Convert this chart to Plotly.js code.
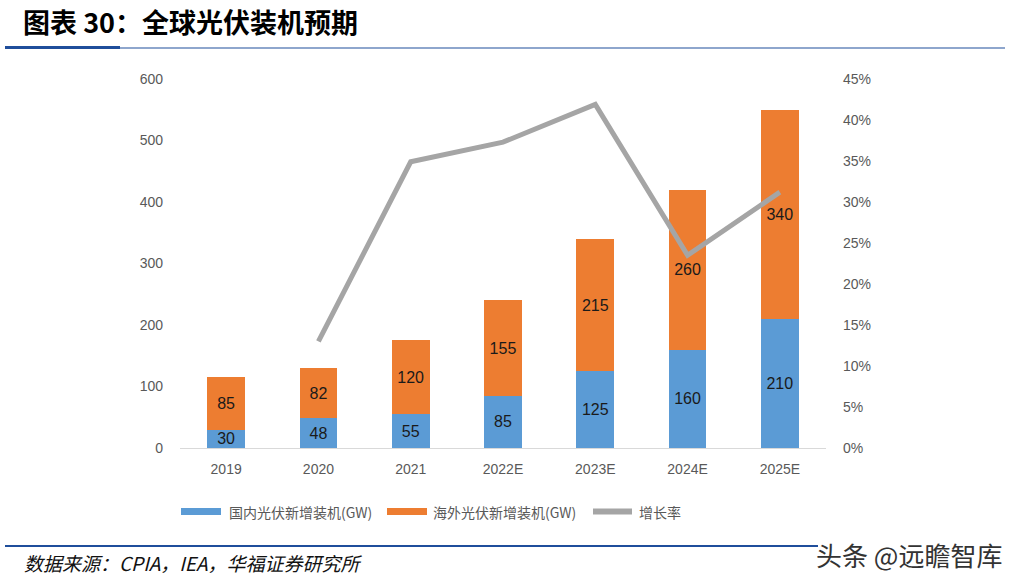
<!DOCTYPE html>
<html><head><meta charset="utf-8">
<script src="https://cdn.plot.ly/plotly-3.0.1.min.js"></script>
<style>html,body{margin:0;padding:0;background:#fff;}#chart{width:1024px;height:585px;}</style>
</head><body><div id="chart"></div>
<script>
const categories = ['2019','2020','2021','2022E','2023E','2024E','2025E'];
const domestic = [30,48,55,85,125,160,210];
const overseas = [85,82,120,155,215,260,340];
const growthYears = ['2020','2021','2022E','2023E','2024E','2025E'];
const growth = [0.130,0.349,0.373,0.419,0.235,0.312];
const seriesNames = ['国内光伏新增装机(GW)','海外光伏新增装机(GW)','增长率'];

const W=1024,H=585,L=180,R=826,T=79,B=448;
const px=x=>(x-L)/(R-L), py=y=>(B-y)/(B-T);
const cjk='"Noto Sans CJK SC", "Liberation Sans", sans-serif';
const tickFont={family:'"Liberation Sans", Arial, sans-serif',size:14,color:'#595959'};
const labFont={family:'"Liberation Sans", Arial, sans-serif',size:16,color:'#1a1a1a'};

const data=[
 {type:'bar',name:seriesNames[0],x:categories,y:domestic,marker:{color:'#5B9BD5'},
  text:domestic.map(String),textposition:'inside',insidetextanchor:'middle',constraintext:'none',
  textfont:labFont,hoverinfo:'none'},
 {type:'bar',name:seriesNames[1],x:categories,y:overseas,marker:{color:'#ED7D31'},
  text:overseas.map(String),textposition:'inside',insidetextanchor:'middle',constraintext:'none',
  textfont:labFont,hoverinfo:'none'},
 {type:'scatter',mode:'lines',name:seriesNames[2],x:growthYears,y:growth,yaxis:'y2',
  line:{color:'#A5A5A5',width:5},hoverinfo:'none'}
];

const legY=py(511.5);
const legFont={family:cjk,size:14,color:'#595959'};
const layout={
 width:W,height:H,margin:{l:L,r:W-R,t:T,b:H-B},
 paper_bgcolor:'#fff',plot_bgcolor:'#fff',
 barmode:'stack',bargap:0.59,showlegend:false,
 xaxis:{type:'category',showgrid:false,showline:true,linecolor:'#D9D9D9',linewidth:1,
  ticks:'',tickfont:tickFont,ticklabelstandoff:8,fixedrange:true},
 yaxis:{range:[0,600],dtick:100,showgrid:false,zeroline:false,showline:false,ticks:'',
  tickfont:tickFont,ticklabelstandoff:16},
 yaxis2:{overlaying:'y',side:'right',range:[0,0.45],dtick:0.05,tickformat:'.0%',
  showgrid:false,zeroline:false,showline:false,ticks:'',tickfont:tickFont,ticklabelstandoff:16},
 shapes:[
  {type:'line',xref:'paper',yref:'paper',x0:px(5),x1:px(120),y0:py(47.5),y1:py(47.5),line:{color:'#1F4E9B',width:3}},
  {type:'line',xref:'paper',yref:'paper',x0:px(120),x1:px(1005),y0:py(48),y1:py(48),line:{color:'#1F4E9B',width:1.2}},
  {type:'line',xref:'paper',yref:'paper',x0:px(5),x1:px(818),y0:py(546),y1:py(546),line:{color:'#1F4E9B',width:2}},
  {type:'rect',xref:'paper',yref:'paper',x0:px(181),x1:px(221),y0:py(508),y1:py(515),fillcolor:'#5B9BD5',line:{width:0}},
  {type:'rect',xref:'paper',yref:'paper',x0:px(387),x1:px(427),y0:py(508),y1:py(515),fillcolor:'#ED7D31',line:{width:0}},
  {type:'line',xref:'paper',yref:'paper',x0:px(593),x1:px(632),y0:legY,y1:legY,line:{color:'#A5A5A5',width:6}}
 ],
 annotations:[
  {text:'<b>图表 30：全球光伏装机预期</b>',xref:'paper',yref:'paper',x:px(21),y:py(21),xanchor:'left',yanchor:'middle',
   showarrow:false,font:{family:cjk,size:27,color:'#000'}},
  {text:seriesNames[0],xref:'paper',yref:'paper',x:px(227),y:legY,xanchor:'left',yanchor:'middle',showarrow:false,font:legFont},
  {text:seriesNames[1],xref:'paper',yref:'paper',x:px(431),y:legY,xanchor:'left',yanchor:'middle',showarrow:false,font:legFont},
  {text:seriesNames[2],xref:'paper',yref:'paper',x:px(637),y:legY,xanchor:'left',yanchor:'middle',showarrow:false,font:legFont},
  {text:'<i>数据来源：CPIA，IEA，华福证券研究所</i>',xref:'paper',yref:'paper',x:px(22),y:py(562),xanchor:'left',yanchor:'middle',
   showarrow:false,font:{family:cjk,size:19,color:'#111'}},
  {text:'头条 @远瞻智库',xref:'paper',yref:'paper',x:px(1004),y:py(554),xanchor:'right',yanchor:'middle',
   showarrow:false,font:{family:cjk,size:26,color:'#333'}}
 ]
};
Plotly.newPlot('chart',data,layout,{displayModeBar:false,staticPlot:true});
</script></body></html>
